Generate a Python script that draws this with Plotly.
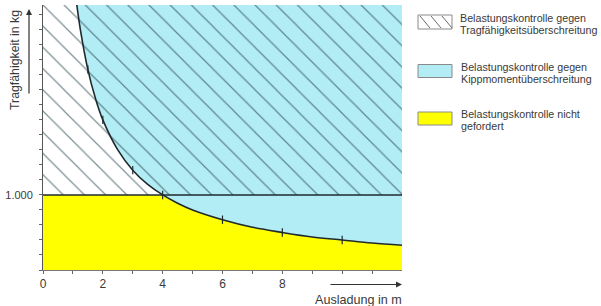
import plotly.graph_objects as go

# ---- data ----
# load curve (tipping-moment limit), x in m, y in kg
curve_x = [1.13, 1.25, 1.5, 1.75, 2.0, 2.5, 3.0, 3.5, 4.0, 4.5, 5.0, 6.0, 7.0, 8.0, 9.0, 10.0, 11.0, 12.0]
curve_y = [3530, 3200, 2670, 2290, 2000, 1600, 1330, 1140, 1000, 890, 800, 670, 570, 500, 440, 400, 360, 330]
# small marks on the curve
mark_x = [1.5, 2.0, 3.0, 4.0, 6.0, 8.0, 10.0]
mark_y = [2670, 2000, 1330, 1000, 670, 500, 400]
threshold = 1000
x_max = 12
y_max = 3530
x_tick_vals = list(range(0, 12))
x_tick_text = ["0", "", "2", "", "4", "", "6", "", "8", "", "", ""]
y_tick_vals = list(range(0, 3600, 200))
y_tick_text = ["1.000" if v == threshold else "" for v in y_tick_vals]
legend_lines = [
    ["Belastungskontrolle gegen", "Tragfähigkeitsüberschreitung"],
    ["Belastungskontrolle gegen", "Kippmomentüberschreitung"],
    ["Belastungskontrolle nicht", "gefordert"],
]
x_title = "Ausladung in m"
y_title = "Tragfähigkeit in kg"

CYAN = "#b2ecf4"
YELLOW = "#ffff00"
DARK = "#1f2a2e"
TXT = "#3a3a3a"
FONT = "Liberation Sans, Arial"

fig = go.Figure()

# yellow region: below min(threshold, curve)
yel_x = [0] + [x for x in curve_x if x >= 4]
yel_y = [threshold] + [y for x, y in zip(curve_x, curve_y) if x >= 4]
fig.add_trace(go.Scatter(x=yel_x, y=yel_y, mode="lines", fill="tozeroy",
                         fillcolor=YELLOW, line=dict(width=0), hoverinfo="skip"))

# cyan region: above curve
cy_x = curve_x + [x_max, curve_x[0]]
cy_y = curve_y + [y_max, y_max]
fig.add_trace(go.Scatter(x=cy_x, y=cy_y, mode="lines", fill="toself",
                         fillcolor=CYAN, line=dict(width=0), hoverinfo="skip"))

# hatched region: above threshold
fig.add_trace(go.Scatter(x=[0, x_max, x_max, 0, 0], y=[threshold, threshold, y_max, y_max, threshold],
                         mode="lines", fill="toself", fillcolor="rgba(0,0,0,0)",
                         line=dict(width=0), hoverinfo="skip",
                         fillpattern=dict(shape="\\", size=15, solidity=0.08,
                                          fgcolor="#24424c", fgopacity=0.6,
                                          bgcolor="rgba(0,0,0,0)")))

# threshold line
fig.add_trace(go.Scatter(x=[0, x_max], y=[threshold, threshold], mode="lines",
                         line=dict(color=DARK, width=1.6), hoverinfo="skip"))
# curve
fig.add_trace(go.Scatter(x=curve_x, y=curve_y, mode="lines", line=dict(color=DARK, width=1.6, shape="spline"),
                         hoverinfo="skip"))
fig.add_trace(go.Scatter(x=mark_x, y=mark_y, mode="markers",
                         marker=dict(symbol="line-ns", size=6, line=dict(color=DARK, width=1.2)),
                         hoverinfo="skip"))

L, R, T, B = 43, 199, 5, 36
W, H = 601, 306
pw, ph = W - L - R, H - T - B


def px(x):
    return (x - L) / pw


def py(y):
    return (H - B - y) / ph


shapes = []
annotations = []
# legend boxes
boxes = [(15, 29, "white"), (64.5, 77.5, CYAN), (112, 125, YELLOW)]
for (y0, y1, col) in boxes:
    shapes.append(dict(type="rect", xref="paper", yref="paper", x0=px(418), x1=px(452), y0=py(y1), y1=py(y0),
                       fillcolor=col, line=dict(color="#8a8a8a", width=1), layer="above"))
for x0 in [420, 431, 442]:
    shapes.append(dict(type="line", xref="paper", yref="paper", x0=px(x0), y0=py(16), x1=px(x0 + 10), y1=py(28),
                       line=dict(color="#6a6a6a", width=1), layer="above"))
text_pos = [(457.5, 17.7, 29.7), (459, 66.7, 79), (459, 114.3, 125.5)]
for (tx, ty1, ty2), lines in zip(text_pos, legend_lines):
    for ty, t in zip((ty1, ty2), lines):
        annotations.append(dict(xref="paper", yref="paper", x=px(tx), y=py(ty), text=t, showarrow=False,
                                xanchor="left", yanchor="middle", align="left",
                                font=dict(family=FONT, size=10.7, color=TXT)))

# axis titles
annotations.append(dict(xref="paper", yref="paper", x=px(15), y=py(60), text=y_title, textangle=-90,
                        xanchor="center", yanchor="middle",
                        showarrow=False, font=dict(family=FONT, size=12.3, color=TXT)))
annotations.append(dict(xref="paper", yref="paper", x=px(358), y=py(300), text=x_title,
                        xanchor="center", yanchor="middle",
                        showarrow=False, font=dict(family=FONT, size=12.6, color=TXT)))
# arrows
annotations.append(dict(xref="x domain", yref="y domain", x=px(29), y=py(9),
                        axref="x domain", ayref="y domain", ax=px(29), ay=py(95), text="",
                        showarrow=True, arrowhead=2, arrowsize=1, arrowwidth=1.2, arrowcolor="#333"))
annotations.append(dict(xref="x domain", yref="y domain", x=px(402), y=py(284.5),
                        axref="x domain", ayref="y domain", ax=px(329), ay=py(284.5), text="",
                        showarrow=True, arrowhead=2, arrowsize=1, arrowwidth=1.2, arrowcolor="#333"))

fig.update_layout(
    width=W, height=H,
    margin=dict(l=L, r=R, t=T, b=B),
    paper_bgcolor="white", plot_bgcolor="white",
    showlegend=False,
    shapes=shapes, annotations=annotations,
    font=dict(family=FONT, size=12, color=TXT),
)
fig.update_xaxes(range=[0, x_max], tickvals=x_tick_vals, ticktext=x_tick_text, ticks="outside", ticklen=3,
                 tickcolor="#666", showline=True, linecolor="#777", linewidth=1, showgrid=False, zeroline=False,
                 tickfont=dict(size=12, color=TXT))
fig.update_yaxes(range=[0, y_max], tickvals=y_tick_vals, ticktext=y_tick_text, ticks="outside", ticklen=3,
                 tickcolor="#666", showline=True, linecolor="#555", linewidth=1, showgrid=False, zeroline=False,
                 ticklabelstandoff=4, tickfont=dict(size=11, color=TXT))

fig.write_html("out.html")
